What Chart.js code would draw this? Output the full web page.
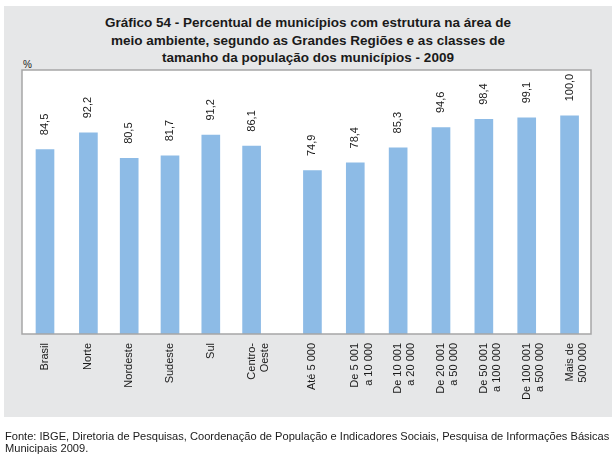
<!DOCTYPE html>
<html>
<head>
<meta charset="utf-8">
<script src="https://cdn.jsdelivr.net/npm/chart.js@4"></script>
<style>
  body { margin: 0; background: #fff; font-family: 'Liberation Sans', Arial, sans-serif; color: #1a1a1a; }
  #panel { position: absolute; left: 4px; top: 6px; width: 608px; height: 411px; background: #e6e7e8; }
  #title { position: absolute; left: 4px; top: 14px; width: 608px; text-align: center;
           font-weight: bold; font-size: 13.5px; line-height: 17.5px; }
  #pct { position: absolute; left: 23px; top: 59px; font-size: 10px; }
  #wrap { position: absolute; left: 0; top: 0; width: 615px; height: 459px; }
  #source { position: absolute; left: 5px; top: 430px; font-size: 11.1px; line-height: 12px; }
</style>
</head>
<body>
<div id="panel"></div>
<div id="title">Gráfico 54 - Percentual de municípios com estrutura na área de<br>meio ambiente, segundo as Grandes Regiões e as classes de<br>tamanho da população dos municípios - 2009</div>
<div id="pct">%</div>
<div id="wrap"><canvas id="chart"></canvas></div>
<div id="source">Fonte: IBGE, Diretoria de Pesquisas, Coordenação de População e Indicadores Sociais, Pesquisa de Informações Básicas<br>Municipais 2009.</div>
<script>
const brasilLabels = ['Brasil'];
const brasilValues = [84.5];
const regionLabels = ['Norte', 'Nordeste', 'Sudeste', 'Sul', ['Centro-', 'Oeste']];
const regionValues = [92.2, 80.5, 81.7, 91.2, 86.1];
const sizeLabels = ['Até 5 000', ['De 5 001', 'a 10 000'], ['De 10 001', 'a 20 000'], ['De 20 001', 'a 50 000'],
  ['De 50 001', 'a 100 000'], ['De 100 001', 'a 500 000'], ['Mais de', '500 000']];
const sizeValues = [74.9, 78.4, 85.3, 94.6, 98.4, 99.1, 100.0];

const BAR = '#8dbbe6';
const FONT = "'Liberation Sans', Arial, sans-serif";

const fmt = v => v.toFixed(1).replace('.', ',');

// one category axis per group, laid side by side with stackWeight
const xAxis = (labels, weight) => ({
  type: 'category',
  labels: labels,
  position: 'bottom',
  stack: 'cats',
  stackWeight: weight,
  offset: true,
  grid: { display: false, drawTicks: false },
  border: { display: false },
  ticks: {
    autoSkip: false, minRotation: 90, maxRotation: 90, padding: 9,
    color: '#1a1a1a', font: { family: FONT, size: 11 }
  },
  afterFit: s => { s.height = 83; s.paddingLeft = 0; s.paddingRight = 0; }
});

const barSet = (data, axis) => ({
  data: data, xAxisID: axis, yAxisID: 'y', grouped: false,
  backgroundColor: BAR, borderWidth: 0, barThickness: 18
});

const plotBox = {
  id: 'plotBox',
  beforeDatasetsDraw(chart) {
    const a = chart.chartArea, ctx = chart.ctx;
    ctx.save();
    ctx.fillStyle = '#fff';
    ctx.fillRect(a.left, a.top, a.right - a.left, a.bottom - a.top);
    ctx.restore();
  },
  afterDatasetsDraw(chart) {
    const a = chart.chartArea, ctx = chart.ctx;
    ctx.save();
    ctx.font = `11px ${FONT}`;
    ctx.fillStyle = '#1a1a1a';
    ctx.textAlign = 'left';
    ctx.textBaseline = 'middle';
    chart.data.datasets.forEach((ds, i) => {
      chart.getDatasetMeta(i).data.forEach((bar, j) => {
        ctx.save();
        ctx.translate(bar.x, bar.y - 14.5);
        ctx.rotate(-Math.PI / 2);
        ctx.fillText(fmt(ds.data[j]), 0, 0);
        ctx.restore();
      });
    });
    ctx.strokeStyle = '#a6a6a6';
    ctx.lineWidth = 1.5;
    ctx.strokeRect(a.left, a.top, a.right - a.left, a.bottom - a.top);
    ctx.restore();
  }
};

new Chart(document.getElementById('chart'), {
  type: 'bar',
  data: {
    datasets: [
      barSet(brasilValues, 'xBrasil'),
      barSet(regionValues, 'xRegions'),
      barSet(sizeValues, 'xSizes')
    ]
  },
  options: {
    responsive: true,
    maintainAspectRatio: false,
    animation: false,
    layout: { padding: { left: 22, right: 24, top: 70, bottom: 42 } },
    plugins: { legend: { display: false }, tooltip: { enabled: false } },
    scales: {
      xBrasil: xAxis(brasilLabels, 46),
      xRegions: xAxis(regionLabels, 204),
      xGap: xAxis([''], 19),
      xSizes: xAxis(sizeLabels, 300),
      y: {
        min: 0, max: 121,
        ticks: { display: false },
        grid: { display: false, drawTicks: false },
        border: { display: false },
        afterFit: s => { s.width = 0; }
      }
    }
  },
  plugins: [plotBox]
});
</script>
</body>
</html>
